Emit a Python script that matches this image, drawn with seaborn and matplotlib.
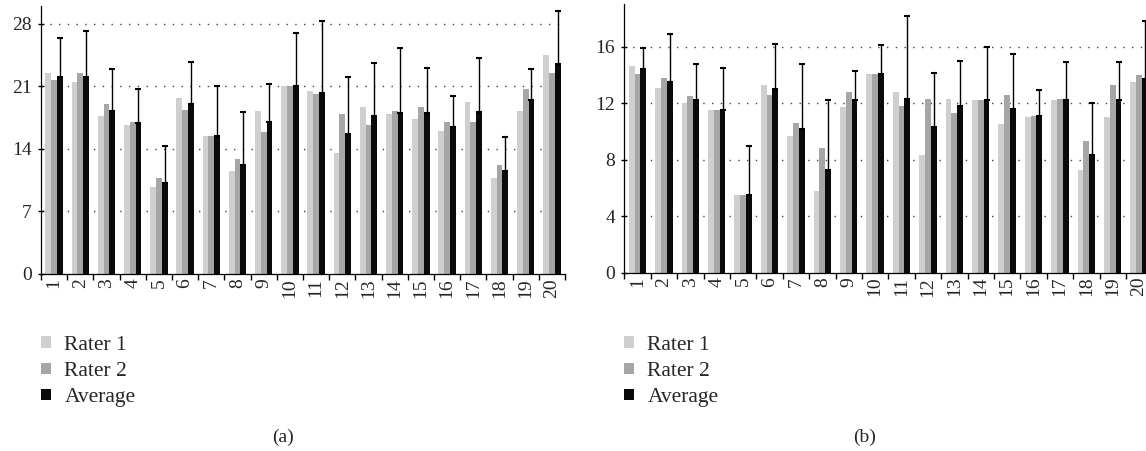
import numpy as np
import pandas as pd
import matplotlib
matplotlib.use("Agg")
import matplotlib.pyplot as plt
import seaborn as sns

# ---------------------------------------------------------------
# data (subjects 1..20)
# ---------------------------------------------------------------
subjects = [str(i) for i in range(1, 21)]
raters = ["Rater 1", "Rater 2", "Average"]

a_rater1 = [22.5, 21.5, 17.7, 16.7, 9.7, 19.7, 15.5, 11.5, 18.2, 21.1,
            20.5, 13.5, 18.7, 17.9, 17.3, 16.0, 19.2, 10.8, 18.2, 24.5]
a_rater2 = [21.7, 22.5, 19.0, 17.0, 10.7, 18.4, 15.4, 12.9, 15.9, 21.0,
            20.2, 17.9, 16.7, 18.2, 18.7, 17.0, 17.0, 12.2, 20.7, 22.5]
a_average = [22.1, 22.0, 18.3, 16.9, 10.2, 19.0, 15.4, 12.2, 17.0, 21.0,
             20.3, 15.7, 17.7, 18.0, 18.0, 16.5, 18.1, 11.5, 19.5, 23.5]
a_sd = [4.3, 5.2, 4.7, 3.8, 4.1, 4.75, 5.7, 5.9, 4.3, 6.0,
        8.0, 6.3, 5.9, 7.3, 5.1, 3.4, 6.1, 3.8, 3.4, 5.9]

b_rater1 = [14.6, 13.1, 12.0, 11.5, 5.5, 13.3, 9.7, 5.8, 11.7, 14.1,
            12.8, 8.3, 12.3, 12.2, 10.5, 11.0, 12.2, 7.3, 11.0, 13.5]
b_rater2 = [14.1, 13.8, 12.5, 11.5, 5.5, 12.6, 10.6, 8.8, 12.8, 14.1,
            11.8, 12.3, 11.3, 12.2, 12.6, 11.1, 12.3, 9.3, 13.3, 14.0]
b_average = [14.4, 13.5, 12.2, 11.5, 5.5, 13.0, 10.2, 7.3, 12.2, 14.1,
             12.3, 10.3, 11.8, 12.2, 11.6, 11.1, 12.2, 8.3, 12.2, 13.7]
b_sd = [1.5, 3.4, 2.55, 3.0, 3.5, 3.2, 4.6, 4.95, 2.1, 2.05,
        5.9, 3.85, 3.2, 3.8, 3.85, 1.85, 2.75, 3.7, 2.75, 4.15]

bar_colors = ["#cfcfcf", "#a6a6a6", "#0a0a0a"]

sns.set_theme(style="white")
plt.rcParams["font.family"] = ["Liberation Serif", "DejaVu Serif"]
plt.rcParams["axes.edgecolor"] = "black"


def long_form(r1, r2, avg):
    rows = []
    for name, vals in zip(raters, [r1, r2, avg]):
        for s, v in zip(subjects, vals):
            rows.append({"subject": s, "rater": name, "value": v})
    return pd.DataFrame(rows)


def draw_panel(ax, r1, r2, avg, sd, yticks, ymax):
    df = long_form(r1, r2, avg)
    for y in yticks[1:]:
        ax.axhline(y, color="#444444", lw=1.0, ls=(0, (1, 5.3)), zorder=0)
    sns.barplot(data=df, x="subject", y="value", hue="rater",
                palette=bar_colors, width=0.66, saturation=1,
                linewidth=0, ax=ax, zorder=2)
    xs = np.arange(len(subjects)) + 0.22
    ax.errorbar(xs, avg, yerr=[np.zeros(len(sd)), sd], fmt="none",
                ecolor="black", elinewidth=1.0, capsize=2.4, capthick=1.5,
                zorder=3)
    ax.set_xlim(-0.5, len(subjects) - 0.5)
    ax.set_ylim(0, ymax)
    ax.set_yticks(yticks)
    ax.set_xticks(np.arange(-0.5, len(subjects)), labels=[])
    ax.set_xticks(np.arange(len(subjects)), labels=subjects, minor=True)
    ax.tick_params(axis="x", which="major", length=4, width=1,
                   direction="out", color="black", bottom=True)
    ax.tick_params(axis="x", which="minor", length=0, rotation=90,
                   labelsize=14, pad=3, bottom=True)
    ax.tick_params(axis="y", length=5, width=1, direction="inout",
                   color="black", labelsize=14, pad=4, left=True)
    ax.set_xlabel("")
    ax.set_ylabel("")
    for side in ["top", "right"]:
        ax.spines[side].set_visible(False)
    for side in ["left", "bottom"]:
        ax.spines[side].set_linewidth(0.9)
    handles, labels = ax.get_legend_handles_labels()
    ax.get_legend().remove()
    return handles, labels


fig = plt.figure(figsize=(11.46, 4.51), dpi=100)
ax_a = fig.add_axes([41 / 1146, 1 - 274 / 451, 524 / 1146, 268 / 451])
ax_b = fig.add_axes([624.3 / 1146, 1 - 272.7 / 451, 528 / 1146, 268.4 / 451])

h, l = draw_panel(ax_a, a_rater1, a_rater2, a_average, a_sd,
                  [0, 7, 14, 21, 28], 30)
draw_panel(ax_b, b_rater1, b_rater2, b_average, b_sd,
           [0, 4, 8, 12, 16], 19)

for x0 in [41, 624]:
    fig.legend(h, l, loc="upper left",
               bbox_to_anchor=(x0 / 1146, 1 - 336 / 451),
               frameon=False, fontsize=15.5, handlelength=0.47,
               handleheight=0.47, handletextpad=0.62, labelspacing=0.33,
               borderpad=0, borderaxespad=0)

fig.text(283 / 1146, 1 - 437 / 451, "(a)", ha="center", va="center",
         fontsize=14)
fig.text(865 / 1146, 1 - 437 / 451, "(b)", ha="center", va="center",
         fontsize=14)

fig.savefig("out.png", dpi=100)
